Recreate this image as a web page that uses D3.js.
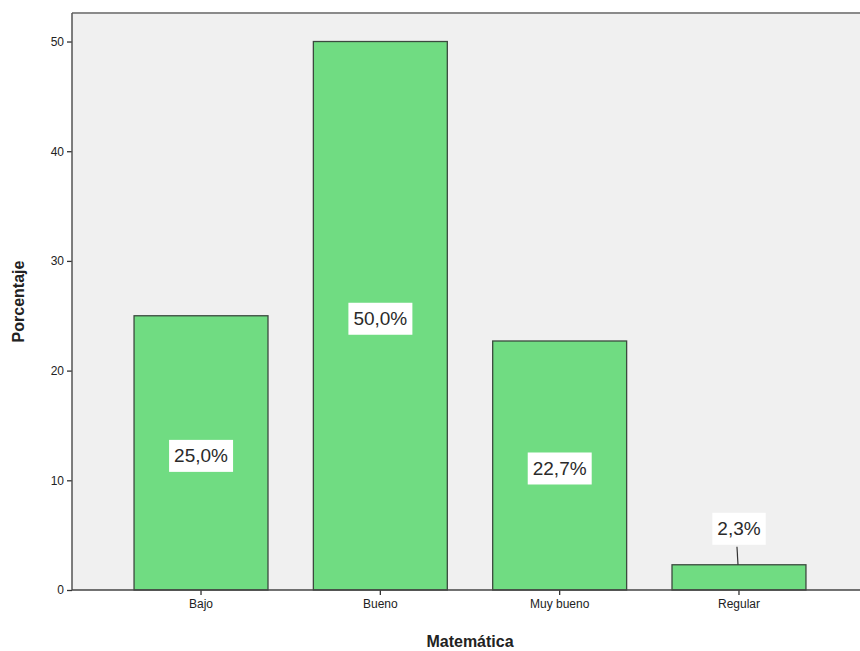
<!DOCTYPE html>
<html><head><meta charset="utf-8">
<script src="https://cdn.jsdelivr.net/npm/d3@7"></script>
<style>body{margin:0;background:#fff}svg{display:block}</style>
</head><body>
<script>
const categories = ["Bajo", "Bueno", "Muy bueno", "Regular"];
const values = [25.0, 50.0, 22.7, 2.3];
const valueLabels = ["25,0%", "50,0%", "22,7%", "2,3%"];
const yTicks = [0, 10, 20, 30, 40, 50];

const W = 860, H = 651;
const pL = 72, pR = 868, pT = 13, pB = 590;
const svg = d3.select("body").append("svg").attr("width", W).attr("height", H)
  .style("font-family", "'Liberation Sans', Arial, sans-serif");

const x = d3.scaleBand().domain(categories).range([pL, pR])
  .paddingInner(0.253).paddingOuter(0.346);
const y = d3.scaleLinear().domain([0, 52.6]).range([pB, pT]);

svg.append("rect").attr("x", pL).attr("y", pT).attr("width", pR - pL).attr("height", pB - pT)
  .attr("fill", "#f0f0f0");
svg.append("line").attr("x1", pL).attr("x2", pR).attr("y1", pT).attr("y2", pT)
  .attr("stroke", "#8a8a8a").attr("stroke-width", 2);

svg.selectAll("rect.bar").data(values).enter().append("rect").attr("class", "bar")
  .attr("x", (d, i) => x(categories[i]))
  .attr("y", d => y(d))
  .attr("width", x.bandwidth())
  .attr("height", d => y(0) - y(d))
  .attr("fill", "#70dc82").attr("stroke", "#3b4a3e").attr("stroke-width", 1.3);

// axes
const yAxis = svg.append("g").attr("transform", `translate(${pL},0)`)
  .call(d3.axisLeft(y).tickValues(yTicks).tickSize(5).tickPadding(3).tickFormat(d3.format("d")));
yAxis.select(".domain").remove();
yAxis.selectAll("line").attr("stroke", "#333").attr("stroke-width", 1.3);
yAxis.selectAll("text").attr("font-size", 12).attr("fill", "#222").style("font-family", "'Liberation Sans', Arial, sans-serif");
svg.append("line").attr("x1", pL).attr("x2", pL).attr("y1", pT).attr("y2", pB)
  .attr("stroke", "#555").attr("stroke-width", 1.5);

const xAxis = svg.append("g").attr("transform", `translate(0,${pB})`)
  .call(d3.axisBottom(x).tickSize(5).tickPadding(4));
xAxis.select(".domain").remove();
xAxis.selectAll("line").attr("stroke", "#333").attr("stroke-width", 1.3);
xAxis.selectAll("text").attr("font-size", 12).attr("fill", "#222").style("font-family", "'Liberation Sans', Arial, sans-serif");
svg.append("line").attr("x1", pL).attr("x2", pR).attr("y1", pB).attr("y2", pB)
  .attr("stroke", "#444").attr("stroke-width", 1.5);

// value labels
values.forEach((v, i) => {
  const cx = x(categories[i]) + x.bandwidth() / 2;
  const small = v < 5;
  const cy = small ? y(v) - 36 : (y(v) + y(0)) / 2 + 3;
  const g = svg.append("g");
  if (small) {
    g.append("line").attr("x1", cx - 2).attr("y1", cy + 18).attr("x2", cx - 1).attr("y2", y(v))
      .attr("stroke", "#333").attr("stroke-width", 1.2);
  }
  const t = g.append("text").attr("x", cx).attr("y", cy).attr("text-anchor", "middle")
    .attr("dominant-baseline", "central").attr("font-size", 19).attr("fill", "#2a2a2a")
    .text(valueLabels[i]);
  const bb = t.node().getBBox();
  g.insert("rect", "text").attr("x", bb.x - 5).attr("y", cy - 16).attr("width", bb.width + 10).attr("height", 32)
    .attr("fill", "#fff");
});

svg.append("text").attr("x", (pL + pR) / 2).attr("y", 647).attr("text-anchor", "middle")
  .attr("font-size", 16).attr("font-weight", "bold").attr("fill", "#222").text("Matemática");
svg.append("text").attr("transform", `translate(24,${(pT + pB) / 2}) rotate(-90)`)
  .attr("text-anchor", "middle").attr("font-size", 16).attr("font-weight", "bold").attr("fill", "#222")
  .text("Porcentaje");
</script>
</body></html>
